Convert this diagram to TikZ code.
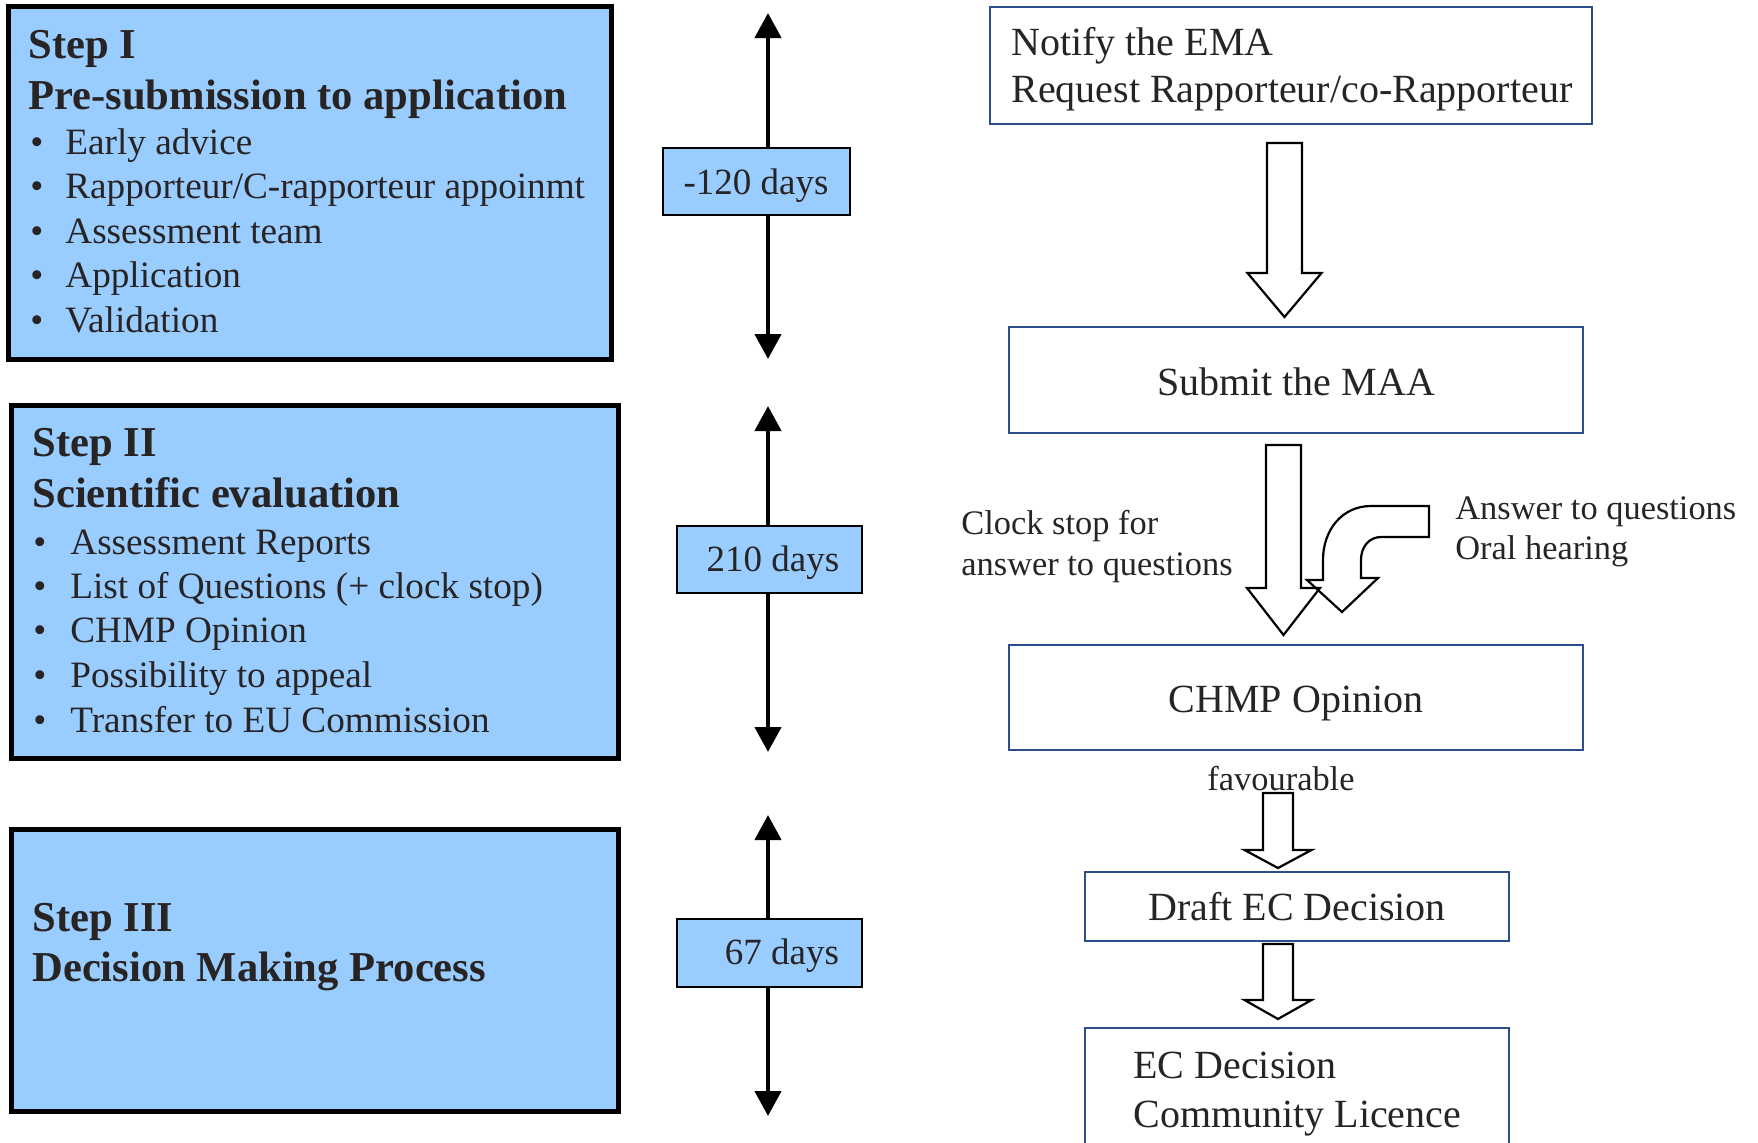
\documentclass[tikz,border=0pt]{standalone}
\usepackage{fontspec}
\setmainfont{Liberation Serif}
\usetikzlibrary{arrows.meta,fit}
\definecolor{ink}{RGB}{40,36,36}
\definecolor{stepblue}{RGB}{153,204,255}
\definecolor{frameblue}{RGB}{44,79,140}

% hollow block arrow pointing down: centre x, half shaft, top, head base, half head, tip
\newcommand\hollowdown[6]{%
  \draw[hollow] (#1-#2,#3) -- (#1+#2,#3) -- (#1+#2,#4) -- (#1+#5,#4) -- (#1,#6)
    -- (#1-#5,#4) -- (#1-#2,#4) -- cycle;}

\begin{document}
\begin{tikzpicture}[x=0.5pt,y=-0.5pt,
  stepbox/.style={draw=black, line width=2.5pt, fill=stepblue, inner sep=0pt},
  daybox/.style={draw=black, line width=1.3pt, fill=stepblue, inner sep=0pt},
  flowbox/.style={draw=frameblue, line width=1.1pt, inner sep=0pt},
  txt/.style={inner sep=0pt, text=ink, anchor=base west},
  head/.style={txt, font=\fontsize{21.3}{25}\selectfont\bfseries},
  item/.style={txt, font=\fontsize{18.6}{22}\selectfont},
  boxtxt/.style={txt, font=\fontsize{20}{24}\selectfont},
  note/.style={txt, font=\fontsize{17.2}{20}\selectfont},
  daytxt/.style={inner sep=0pt, text=ink, anchor=base, font=\fontsize{18.5}{22}\selectfont},
  span/.style={line width=2.2pt, {Triangle[width=13pt,length=12.5pt]}-{Triangle[width=13pt,length=12.5pt]}},
  hollow/.style={draw=black, line width=1.1pt, line join=miter},
]
\clip (0,0) rectangle (1758,1142);

% ---- left column: the three steps
\node (s1) [stepbox, fit={(8,6)(611,359)}] {};
\node (s1a) [head] at (28,58) {Step I};
\node (s1b) [head] at (28,109) {Pre-submission to application};
\node (s1i1b) [item] at (30,154) {•}; \node (s1i1) [item] at (65,154) {Early advice};
\node (s1i2b) [item] at (30,198) {•}; \node (s1i2) [item] at (65,198) {Rapporteur/C-rapporteur appoinmt};
\node (s1i3b) [item] at (30,243) {•}; \node (s1i3) [item] at (65,243) {Assessment team};
\node (s1i4b) [item] at (30,287) {•}; \node (s1i4) [item] at (65,287) {Application};
\node (s1i5b) [item] at (30,332) {•}; \node (s1i5) [item] at (65,332) {Validation};

\node (s2) [stepbox, fit={(11,405)(618,758)}] {};
\node (s2a) [head] at (32,456) {Step II};
\node (s2b) [head] at (32,507) {Scientific evaluation};
\node (s2i1b) [item] at (33,554) {•}; \node (s2i1) [item] at (70,554) {Assessment Reports};
\node (s2i2b) [item] at (33,598) {•}; \node (s2i2) [item] at (70,598) {List of Questions (+ clock stop)};
\node (s2i3b) [item] at (33,642) {•}; \node (s2i3) [item] at (70,642) {CHMP Opinion};
\node (s2i4b) [item] at (33,687) {•}; \node (s2i4) [item] at (70,687) {Possibility to appeal};
\node (s2i5b) [item] at (33,732) {•}; \node (s2i5) [item] at (70,732) {Transfer to EU Commission};

\node (s3) [stepbox, fit={(11,829)(618,1111)}] {};
\node (s3a) [head] at (32,931) {Step III};
\node (s3b) [head] at (32,981) {Decision Making Process};

% ---- middle column: durations
\coordinate (t1) at (768,13);  \coordinate (b1) at (768,359);
\coordinate (t2) at (768,406); \coordinate (b2) at (768,752);
\coordinate (t3) at (768,815); \coordinate (b3) at (768,1116);
\draw[span] (t1) -- (b1);
\draw[span] (t2) -- (b2);
\draw[span] (t3) -- (b3);
\node (d1) [daybox, fit={(663,148)(850,215)}] {};
\node (d1t) [daytxt] at (756,194) {-120 days};
\node (d2) [daybox, fit={(677,526)(862,593)}] {};
\node (d2t) [daytxt] at (773,571) {210 days};
\node (d3) [daybox, fit={(677,919)(862,987)}] {};
\node (d3t) [daytxt] at (782,964) {67 days};

% ---- right column: procedure
\node (notify) [flowbox, fit={(990,7)(1592,124)}] {};
\node (notify1) [boxtxt] at (1011,55) {Notify the EMA};
\node (notify2) [boxtxt] at (1011,102) {Request Rapporteur/co-Rapporteur};

\node (maa) [flowbox, fit={(1009,327)(1583,433)}] {};
\node (maat) [boxtxt, anchor=base] at (1296,395) {Submit the MAA};

\node (chmp) [flowbox, fit={(1009,645)(1583,750)}] {};
\node (chmpt) [boxtxt, anchor=base] at (1296,712) {CHMP Opinion};

\node (draft) [flowbox, fit={(1085,872)(1509,941)}] {};
\node (draftt) [boxtxt, anchor=base] at (1297,920) {Draft EC Decision};

\node (ec) [flowbox, fit={(1085,1028)(1509,1170)}] {};
\node (ec1) [boxtxt] at (1133,1078) {EC Decision};
\node (ec2) [boxtxt] at (1133,1127) {Community Licence};

\node (clock1) [note] at (961,534) {Clock stop for};
\node (clock2) [note] at (961,575) {answer to questions};
\node (ans1) [note] at (1455,519) {Answer to questions};
\node (ans2) [note] at (1455,559) {Oral hearing};

% block arrows between the boxes
\hollowdown{1284.5}{17.5}{143}{273}{37}{317}
\hollowdown{1283.5}{17.5}{445}{588}{36.5}{635}
\hollowdown{1278}{15}{793}{850}{33.5}{868}
\hollowdown{1278}{15}{944}{1000}{33.5}{1019}

% bent arrow bringing the answers back in
\draw[hollow] (1429,506) -- (1371,506) .. controls (1342,506) and (1323,530) .. (1323,560)
  -- (1323,580) -- (1307,580) -- (1342,612) -- (1378,578) -- (1361,578) -- (1361,560)
  .. controls (1361,547) and (1369,537) .. (1381,537) -- (1429,537) -- cycle;

\node (fav) [note, anchor=base] at (1281,790) {favourable};
\end{tikzpicture}
\end{document}
